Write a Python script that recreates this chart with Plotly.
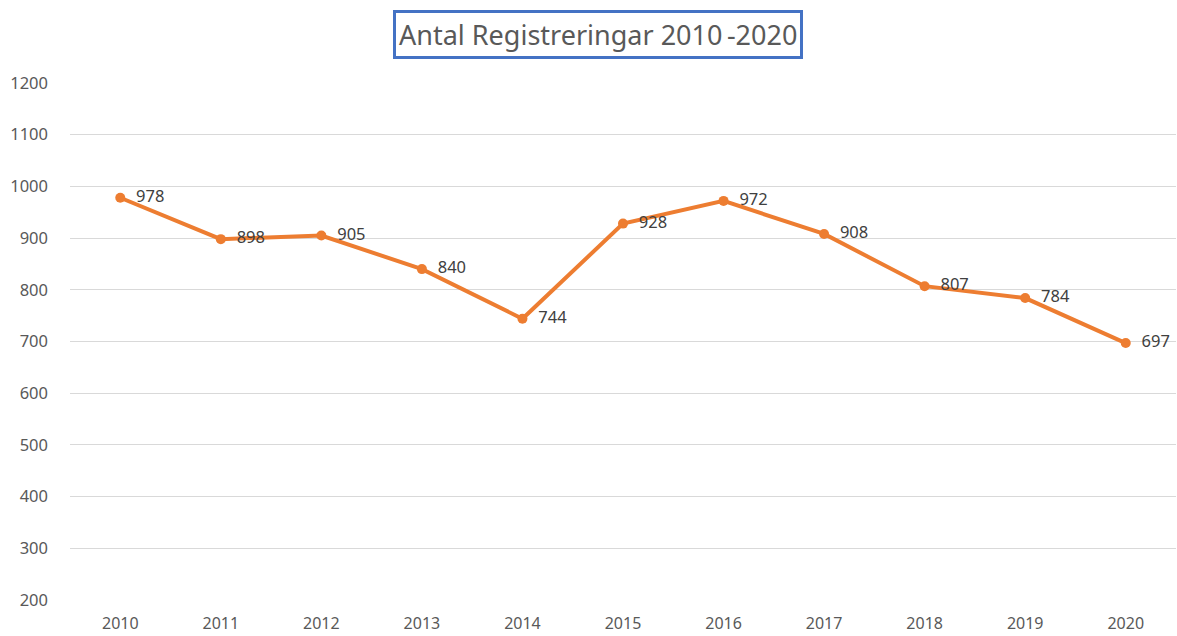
import plotly.graph_objects as go

years = ["2010", "2011", "2012", "2013", "2014", "2015", "2016", "2017", "2018", "2019", "2020"]
values = [978, 898, 905, 840, 744, 928, 972, 908, 807, 784, 697]
y_ticks = [200, 300, 400, 500, 600, 700, 800, 900, 1000, 1100, 1200]
title_text = "Antal Registreringar 2010\u2009-2020"

FONT = "Noto Sans, Open Sans, sans-serif"

fig = go.Figure()
fig.add_trace(go.Scatter(
    x=years, y=values,
    mode="lines+markers+text",
    line=dict(color="#ED7D31", width=4),
    marker=dict(color="#ED7D31", size=10),
    text=["\u00a0\u00a0" + str(v) for v in values],
    textposition="middle right",
    textfont=dict(family=FONT, size=16.5, color="#404040"),
    cliponaxis=False,
    showlegend=False,
))

W, H = 1177, 636
ml, mr, mt, mb = 70, 1, 83, 36
plot_h = H - mt - mb
plot_w = W - ml - mr

fig.update_layout(
    width=W, height=H,
    margin=dict(l=ml, r=mr, t=mt, b=mb, autoexpand=False),
    paper_bgcolor="white", plot_bgcolor="white",
    font=dict(family=FONT, color="#595959"),
    xaxis=dict(
        type="category", range=[-0.5, 10.5],
        showgrid=False, showline=False, zeroline=False,
        ticks="", tickfont=dict(size=16, color="#595959"),
        ticklabelstandoff=12,
    ),
    yaxis=dict(
        range=[200, 1200], tickvals=y_ticks,
        showgrid=True, gridcolor="#d9d9d9", gridwidth=1.3,
        zeroline=False, showline=False, ticks="",
        tickfont=dict(size=16.5, color="#595959"),
        ticklabelstandoff=21,
    ),
    annotations=[dict(
        text=title_text,
        xref="paper", yref="paper",
        x=(598 - ml) / plot_w, y=1 + 48 / plot_h,
        xanchor="center", yanchor="middle",
        showarrow=False,
        font=dict(family=FONT, size=27, color="#595959"),
        bordercolor="#4472C4", borderwidth=3, borderpad=3,
        bgcolor="white",
    )],
)

fig.write_html(
    "out.html",
    config={"displayModeBar": False},
    post_script="document.body.style.margin='0';document.body.style.overflow='hidden';",
)
